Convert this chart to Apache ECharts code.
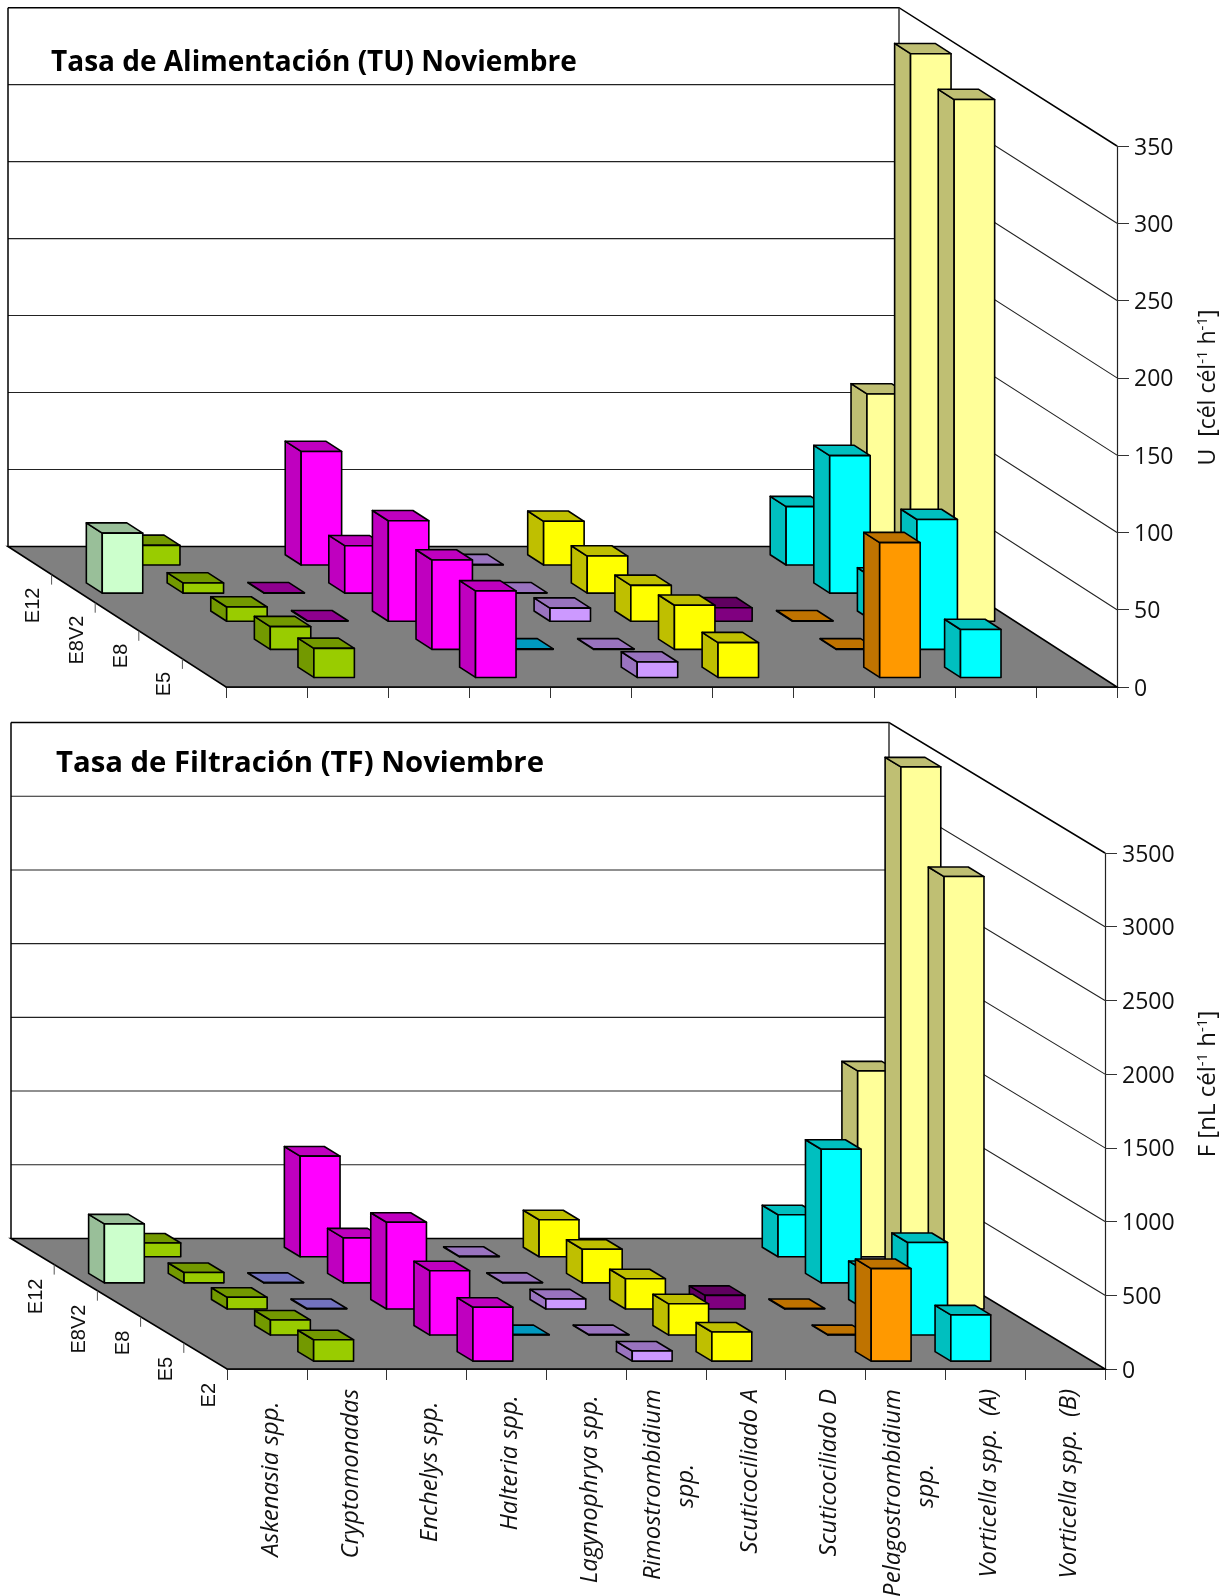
<!DOCTYPE html>
<html>
<head>
<meta charset="utf-8">
<style>html,body{margin:0;padding:0;background:#fff}#c{width:1230px;height:1596px}</style>
<script src="https://cdn.jsdelivr.net/npm/echarts@6/dist/echarts.min.js"></script>
</head>
<body>
<div id="c"></div>
<script>
// ---- data ----
const categories = ['Askenasia spp.\u00a0\u00a0','Cryptomonadas','Enchelys spp.\u00a0\u00a0','Halteria spp.\u00a0','Lagynophrya spp.\u00a0','Rimostrombidium\nspp.\u00a0\u00a0\u00a0\u00a0\u00a0\u00a0\u00a0\u00a0\u00a0\u00a0\u00a0\u00a0','Scuticociliado A','Scuticociliado D','Pelagostrombidium\nspp.\u00a0\u00a0\u00a0\u00a0\u00a0\u00a0\u00a0\u00a0\u00a0\u00a0\u00a0\u00a0','Vorticella spp.  (A)','Vorticella spp.  (B)'];
const rowLabels = ['E2','E5','E8','E8V2','E12'];
const tuTicks = [0,50,100,150,200,250,300,350];
const tfTicks = [0,500,1000,1500,2000,2500,3000,3500];

const tuE2   = [null,18.8,null,56,  null,10, 22.5,null,87.2,31,null];
const tuE5   = [null,14.7,null,57.8,0.3, 0.3,28.5,null,0.3, 84,null];
const tuE8   = [null,9.2, 0.3, 65,  null,8.5,23.2,8.7, 0.3, 28,337.5];
const tuE8V2 = [38.8,6.6, 0.3, 30.7,null,0.3,24,  null,null,89,349];
const tuE12  = [null,12.7,null,73.5,null,0.3,28.3,null,null,37.8,110.7];

const tfE2   = [null,145,null,366,null,69,198,null,628,314,null];
const tfE5   = [null,102,null,436,3,   3, 212,null,3,  628,null];
const tfE8   = [null,79, 3,   588,null,68,205,92,  3,  261,2933];
const tfE8V2 = [400, 70, 3,   305,null,3, 228,null,null,906,3500];
const tfE12  = [null,93, null,683,null,3, 251,null,null,285,1261];

const tuRows = [tuE2,tuE5,tuE8,tuE8V2,tuE12];
const tfRows = [tfE2,tfE5,tfE8,tfE8V2,tfE12];

// ---- styles ----
const tuColors = ['#CCFFCC','#99CC00','#BF00BF','#FF00FF','#00CCFF','#CC99FF','#FFFF00','#800080','#FF9900','#00FFFF','#FFFF99'];
const tfColors = ['#CCFFCC','#99CC00','#9999FF','#FF00FF','#00CCFF','#CC99FF','#FFFF00','#800080','#FF9900','#00FFFF','#FFFF99'];
const FONT = '"Open Sans"';
function shade(hex){
  const n = parseInt(hex.slice(1),16);
  const f = c => Math.round(c*0.75);
  return 'rgb('+f(n>>16&255)+','+f(n>>8&255)+','+f(n&255)+')';
}

// flatten rows back-to-front so nearer boxes paint over farther ones
function boxData(rows){
  const out = [];
  for(let r = rows.length-1; r >= 0; r--){
    rows[r].forEach((v,c) => { if(v !== null) out.push([c,r,v]); });
  }
  return out;
}

function wallsSeries(g, ticks, dX, dY, backScale){
  const n = categories.length, depthN = rowLabels.length, top = ticks[ticks.length-1];
  return {
    type:'custom', xAxisIndex:g, yAxisIndex:g, z:1, silent:true, clip:false,
    data: ticks.map(v => [0,v]),
    encode:{x:0,y:1},
    renderItem(params, api){
      const v = api.value(1);
      const bw = api.size([1,0])[0];
      const L = api.coord([0,0])[0]-bw/2, R = api.coord([n-1,0])[0]+bw/2;
      const y = api.coord([0,v])[1];
      const y0 = api.coord([0,0])[1];
      const tx = dX*depthN, ty = dY*depthN;
      const yb = y0-ty-(y0-y)*backScale;
      const kids = [];
      if(v === 0){
        kids.push({type:'polygon',shape:{points:[[L,y0],[R,y0],[R-tx,y0-ty],[L-tx,y0-ty]]},
          style:{fill:'#808080',stroke:'#000',lineWidth:1.6}});
      } else {
        const isTop = v === top;
        kids.push({type:'polyline',shape:{points:[[L-tx,yb],[R-tx,yb],[R,y]]},
          style:{fill:'none',stroke:isTop?'#000':'#222',lineWidth:isTop?1.5:1.1}});
      }
      if(v === top){
        kids.push({type:'line',shape:{x1:L-tx,y1:yb,x2:L-tx,y2:y0-ty},style:{stroke:'#000',lineWidth:1.5}});
        kids.push({type:'line',shape:{x1:R-tx,y1:yb,x2:R-tx,y2:y0-ty},style:{stroke:'#333',lineWidth:1.5}});
      }
      return {type:'group',children:kids};
    }
  };
}

function depthSeries(g, labels, dX, dY){
  return {
    type:'custom', xAxisIndex:g, yAxisIndex:g, z:2, silent:true, clip:false,
    data: rowLabels.map((s,r) => [0,r]),
    encode:{x:0},
    renderItem(params, api){
      const r = api.value(1);
      const bw = api.size([1,0])[0];
      const p = api.coord([0,0]);
      const L = p[0]-bw/2, y0 = p[1];
      const kids = [];
      if(r > 0){
        const tx = L-dX*r, ty = y0-dY*r;
        kids.push({type:'line',shape:{x1:tx,y1:ty,x2:tx,y2:ty+10},style:{stroke:'#555',lineWidth:1}});
      }
      if(labels[r]){
        kids.push({type:'text',x:L-dX*(r+0.5)+4,y:y0-dY*(r+0.5)+27,rotation:Math.PI/2,
          style:{text:labels[r],align:'right',verticalAlign:'middle',font:'20px "Liberation Sans"',fill:'#111'}});
      }
      return {type:'group',children:kids};
    }
  };
}

function boxSeries(g, rows, colors, dX, dY, frontGap, xInset){
  return {
    type:'custom', xAxisIndex:g, yAxisIndex:g, z:3, clip:false,
    data: boxData(rows),
    encode:{x:0,y:2},
    renderItem(params, api){
      const c = api.value(0), r = api.value(1), v = api.value(2);
      const bw = api.size([1,0])[0];
      const pb = api.coord([c,0]), pt = api.coord([c,v]);
      const t0 = r+frontGap, t1 = t0+0.365;
      const w = bw*0.5;
      const xa = pb[0]-bw/2+bw*xInset-c*0.17;
      const fx = xa-dX*t0, fy = pb[1]-dY*t0, ftop = pt[1]-dY*t0;
      const bx = xa-dX*t1, btop = pt[1]-dY*t1, bbot = pb[1]-dY*t1;
      const col = colors[c], dark = shade(col);
      const st = f => ({fill:f,stroke:'#000',lineWidth:1.6,lineJoin:'round'});
      return {type:'group',children:[
        {type:'polygon',shape:{points:[[fx,fy],[fx,ftop],[bx,btop],[bx,bbot]]},style:st(dark)},
        {type:'polygon',shape:{points:[[fx,ftop],[fx+w,ftop],[bx+w,btop],[bx,btop]]},style:st(dark)},
        {type:'rect',shape:{x:fx,y:ftop,width:w,height:fy-ftop},style:st(col)}
      ]};
    }
  };
}

function xAxisFor(g){
  return {
    type:'category', gridIndex:g, data:categories, boundaryGap:true,
    axisLine:{show:true,onZero:false,lineStyle:{color:'#000',width:1.5}},
    axisTick:{show:true,interval:0,length:11,alignWithLabel:false,lineStyle:{color:'#333',width:1}},
    axisLabel:{show:false,interval:0}
  };
}
// species names sit on their own axis, nudged a few pixels right of the band centres
function labelAxis(g){
  return {
    type:'category', gridIndex:g, data:categories, boundaryGap:true,
    axisLine:{show:false}, axisTick:{show:false},
    axisLabel:{show:true,interval:0,rotate:90,margin:20,align:'right',verticalAlign:'middle',
      fontFamily:FONT,fontStyle:'italic',fontSize:24,color:'#111',lineHeight:33}
  };
}
function yAxisFor(g, ticks, name, gap, pad, nameSize){
  return {
    type:'value', gridIndex:g, position:'right', min:0, max:ticks[ticks.length-1], interval:ticks[1],
    axisLine:{show:true,lineStyle:{color:'#222',width:1.2}},
    axisTick:{show:true,length:12,inside:false,lineStyle:{color:'#333',width:1}},
    splitLine:{show:false},
    axisLabel:{margin:17,fontFamily:FONT,fontSize:23,color:'#111',verticalAlign:'top',lineHeight:4,formatter:v => String(v)},
    name:name, nameLocation:'middle', nameRotate:90, nameGap:gap,
    nameTextStyle:{padding:[0,0,0,pad],rich:{
      a:{fontFamily:FONT,fontSize:nameSize,color:'#111'},
      s:{fontFamily:FONT,fontSize:15,color:'#111',verticalAlign:'top',lineHeight:27}
    }}
  };
}

const DX1 = 43.6, DY1 = 28.1, DX2 = 43.2, DY2 = 26.1;

const option = {
  animation:false,
  backgroundColor:'#fff',
  title:[
    {text:'Tasa de Alimentación (TU) Noviembre',left:46,top:44,textStyle:{fontFamily:FONT,fontWeight:700,fontSize:28,color:'#000'}},
    {text:'Tasa de Filtración (TF) Noviembre',left:51,top:744,textStyle:{fontFamily:FONT,fontWeight:700,fontSize:29.3,color:'#000'}}
  ],
  grid:[
    {left:226,top:146,width:891,height:541,outerBoundsMode:'none'},
    {left:227,top:853,width:878,height:516,outerBoundsMode:'none'},
    {left:231,top:853,width:878,height:516,outerBoundsMode:'none'}
  ],
  xAxis:[xAxisFor(0),xAxisFor(1),labelAxis(2)],
  yAxis:[
    yAxisFor(0,tuTicks,'{a|U  [cél cél}{s|-1}{a| h}{s|-1}{a|]}',78,58,23),
    yAxisFor(1,tfTicks,'{a|F [nL cél}{s|-1}{a| h}{s|-1}{a|]}',90,54,24),
    {type:'value',gridIndex:2,show:false,min:0,max:1}
  ],
  series:[
    wallsSeries(0,tuTicks,DX1,DY1,0.996),
    depthSeries(0,[null,'E5','E8','E8V2','E12'],DX1,DY1),
    boxSeries(0,tuRows,tuColors,DX1,DY1,0.34,0.27),
    wallsSeries(1,tfTicks,DX2,DY2,1),
    depthSeries(1,rowLabels,DX2,DY2),
    boxSeries(1,tfRows,tfColors,DX2,DY2,0.3,0.25)
  ]
};
echarts.init(document.getElementById('c'),null,{renderer:'canvas'}).setOption(option);
</script>
</body>
</html>
